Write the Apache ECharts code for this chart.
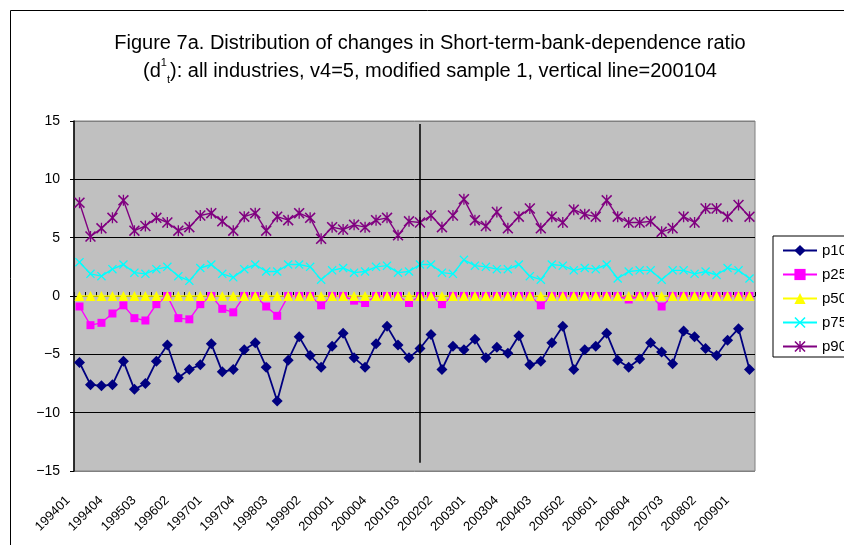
<!DOCTYPE html>
<html>
<head>
<meta charset="utf-8">
<script src="https://cdn.jsdelivr.net/npm/echarts@6/dist/echarts.min.js"></script>
<style>
  html, body { margin: 0; padding: 0; background: #fff; }
  #main { width: 844px; height: 545px; }
</style>
</head>
<body>
<div id="main"></div>
<script>
// quarters 199401 .. 200902
var quarters = [];
for (var y = 1994; y <= 2009; y++) {
  for (var q = 1; q <= 4; q++) {
    if (y === 2009 && q > 2) break;
    quarters.push(String(y) + '0' + q);
  }
}

var vlineAt = '200104';

var p10 = [-5.7, -7.6, -7.7, -7.6, -5.6, -8.0, -7.5, -5.6, -4.2, -7.0,
           -6.3, -5.9, -4.1, -6.5, -6.3, -4.6, -4.0, -6.1, -9.0, -5.5,
           -3.5, -5.1, -6.1, -4.3, -3.2, -5.3, -6.1, -4.1, -2.6, -4.2,
           -5.3, -4.5, -3.3, -6.3, -4.3, -4.6, -3.7, -5.3, -4.4, -4.9,
           -3.4, -5.9, -5.6, -4.0, -2.6, -6.3, -4.6, -4.3, -3.2, -5.5,
           -6.1, -5.4, -4.0, -4.8, -5.8, -3.0, -3.5, -4.5, -5.1, -3.8,
           -2.8, -6.3];
var p25 = [-0.9, -2.5, -2.3, -1.5, -0.8, -1.9, -2.1, -0.7, 0, -1.9,
           -2.0, -0.7, 0, -1.1, -1.4, 0, 0, -0.9, -1.7, 0,
           0, 0, -0.8, 0, 0, -0.4, -0.6, 0, 0, 0,
           -0.6, 0, 0, -0.7, 0, 0, 0, 0, 0, 0,
           0, 0, -0.8, 0, 0, 0, 0, 0, 0, 0,
           -0.3, 0, 0, -0.9, 0, 0, 0, 0, 0, 0,
           0, 0];
var p50 = [0, 0, 0, 0, 0, 0, 0, 0, 0, 0,
           0, 0, 0, 0, 0, 0, 0, 0, 0, 0,
           0, 0, 0, 0, 0, 0, 0, 0, 0, 0,
           0, 0, 0, 0, 0, 0, 0, 0, 0, 0,
           0, 0, 0, 0, 0, 0, 0, 0, 0, 0,
           0, 0, 0, 0, 0, 0, 0, 0, 0, 0,
           0, 0];
var p75 = [2.9, 1.9, 1.7, 2.3, 2.7, 2.0, 1.9, 2.3, 2.5, 1.7,
           1.3, 2.4, 2.7, 1.9, 1.6, 2.3, 2.7, 2.1, 2.1, 2.7,
           2.7, 2.5, 1.4, 2.2, 2.4, 2.0, 2.1, 2.5, 2.6, 2.0,
           2.1, 2.7, 2.7, 2.0, 1.9, 3.1, 2.6, 2.5, 2.3, 2.3,
           2.7, 1.7, 1.4, 2.7, 2.6, 2.2, 2.4, 2.3, 2.7, 1.5,
           2.1, 2.2, 2.2, 1.4, 2.2, 2.2, 1.9, 2.1, 1.8, 2.4,
           2.2, 1.5];
var p90 = [8.0, 5.1, 5.8, 6.7, 8.2, 5.6, 6.0, 6.7, 6.3, 5.6,
           5.9, 6.9, 7.1, 6.4, 5.6, 6.8, 7.1, 5.6, 6.8, 6.5,
           7.1, 6.7, 4.9, 5.9, 5.7, 6.1, 5.9, 6.5, 6.7, 5.2,
           6.4, 6.3, 6.9, 5.9, 6.9, 8.3, 6.5, 6.0, 7.2, 5.8,
           6.8, 7.5, 5.8, 6.8, 6.3, 7.4, 7.0, 6.8, 8.2, 6.8,
           6.3, 6.3, 6.4, 5.5, 5.8, 6.8, 6.3, 7.5, 7.5, 6.8,
           7.8, 6.8];

var xMark = 'path://M0,1L1,0L5,4L9,0L10,1L6,5L10,9L9,10L5,6L1,10L0,9L4,5Z';
var starMark = 'path://M0,1L1,0L5,4L9,0L10,1L6,5L10,9L9,10L5,6L1,10L0,9L4,5Z' +
               'M4.4,0L5.6,0L5.6,10L4.4,10Z';

var myChart = echarts.init(document.getElementById('main'));

function lineSeries(name, data, color, symbol, size, width) {
  return {
    name: name,
    type: 'line',
    data: data,
    symbol: symbol,
    symbolSize: size,
    showSymbol: true,
    showAllSymbol: true,
    animation: false,
    itemStyle: { color: color, borderWidth: 0 },
    lineStyle: { color: color, width: width }
  };
}

var series = [
  lineSeries('p10', p10, '#000080', 'diamond', 11, 1.8),
  lineSeries('p25', p25, '#FF00FF', 'rect', 8, 1.4),
  lineSeries('p50', p50, '#FFFF00', 'triangle', 10, 1.4),
  lineSeries('p75', p75, '#00FFFF', xMark, 9, 1.4),
  lineSeries('p90', p90, '#800080', starMark, 11, 1.4)
];
series[0].markLine = {
  silent: true,
  symbol: 'none',
  label: { show: false },
  lineStyle: { color: '#000', width: 1.5, type: 'solid' },
  data: [[{ coord: [vlineAt, 14.75] }, { coord: [vlineAt, -14.3] }]]
};

var option = {
  backgroundColor: '#fff',
  animation: false,
  textStyle: { fontFamily: 'Liberation Sans, Arial, sans-serif' },
  graphic: [{
    type: 'rect',
    shape: { x: 10.5, y: 10.5, width: 900, height: 600 },
    style: { fill: 'none', stroke: '#000', lineWidth: 1 },
    silent: true
  }],
  title: {
    text: 'Figure 7a. Distribution of changes in Short-term-bank-dependence ratio\n' +
          '(d{sup|1}{sub|t}): all industries, v4=5, modified sample 1, vertical line=200104',
    left: 425,
    top: 24,
    textAlign: 'center',
    textStyle: {
      color: '#000',
      fontSize: 20,
      fontWeight: 'normal',
      lineHeight: 28,
      rich: {
        sup: { fontSize: 11, verticalAlign: 'top', lineHeight: 22 },
        sub: { fontSize: 11, verticalAlign: 'bottom', lineHeight: 16 }
      }
    }
  },
  legend: {
    orient: 'vertical',
    left: 773,
    top: 236,
    itemWidth: 34,
    itemHeight: 14,
    itemGap: 9,
    padding: [7, 8, 3, 9],
    backgroundColor: '#fff',
    borderColor: '#000',
    borderWidth: 1,
    borderRadius: 0,
    textStyle: { color: '#000', fontSize: 15 },
    data: ['p10', 'p25', 'p50', 'p75', 'p90']
  },
  grid: {
    show: true,
    left: 74,
    right: 89,
    top: 121,
    bottom: 74,
    backgroundColor: '#C0C0C0',
    borderColor: '#808080',
    borderWidth: 1
  },
  xAxis: [{
    type: 'category',
    data: quarters,
    boundaryGap: true,
    position: 'bottom',
    axisLine: { show: false, onZero: false },
    axisTick: { show: false },
    splitLine: { show: false },
    axisLabel: {
      interval: 2, rotate: 45, fontSize: 13, color: '#000',
      margin: 16, padding: [0, 16, 0, 0]
    }
  }, {
    type: 'category',
    data: quarters,
    boundaryGap: true,
    position: 'top',
    axisLine: { show: true, onZero: true, lineStyle: { color: '#000', width: 1 } },
    axisTick: { show: true, interval: 0, length: 4, lineStyle: { color: '#000' } },
    axisLabel: { show: false },
    splitLine: { show: false }
  }],
  yAxis: {
    type: 'value',
    min: -15,
    max: 15,
    interval: 5,
    axisLine: { show: true, lineStyle: { color: '#000', width: 1.5 } },
    axisTick: { show: true, length: 4, lineStyle: { color: '#000' } },
    splitLine: {
      show: true,
      lineStyle: { color: ['#808080', '#000', '#000', '#000', '#000', '#000', '#808080'], width: 1 }
    },
    axisLabel: {
      fontSize: 14,
      color: '#000',
      margin: 14,
      formatter: function (v) { return String(v).replace('-', '\u2212'); }
    }
  },
  series: series
};

myChart.setOption(option);
</script>
</body>
</html>
